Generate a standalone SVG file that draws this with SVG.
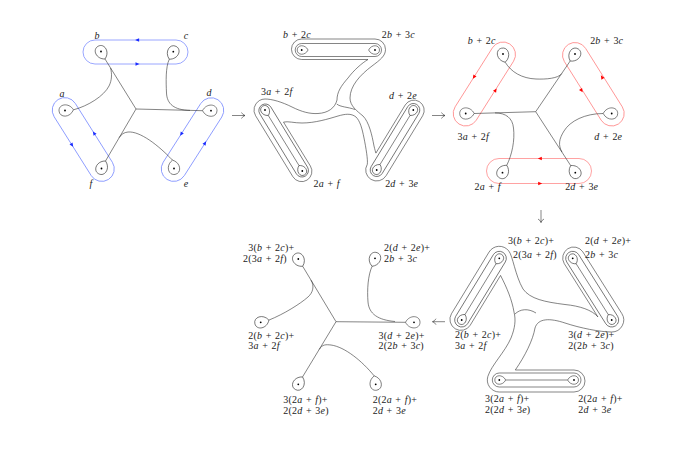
<svg xmlns="http://www.w3.org/2000/svg" width="674" height="457" viewBox="0 0 674 457">
<defs>
<style>
.k{fill:none;stroke:#333;stroke-width:0.6}
.bl{fill:none;stroke:#8090ff;stroke-width:0.8}
.rd{fill:none;stroke:#ff8a8a;stroke-width:0.8}
.t{font-family:"Liberation Serif","DejaVu Serif",serif;font-size:10px;letter-spacing:0.2px;word-spacing:0.8px;fill:#222}
.i{font-style:italic}
.ab{fill:#1a2cff}
.ar{fill:#ff0000}
</style>
<path id="ls" d="M0,8.5 C-8,4.5 -7,-6 0,-6 C7,-6 8,4.5 0,8.5"/>
<path id="lsS" d="M0,6.4 C-6,3.4 -5.3,-4.5 0,-4.5 C5.3,-4.5 6,3.4 0,6.4"/>
<path id="tri" d="M2.2,0 L-1.8,-1.8 L-1.8,1.8 Z"/>
<circle id="pt" r="0.9" fill="#000"/>
<marker id="hd" viewBox="-5 -4 6 8" refX="0" refY="0" markerWidth="6" markerHeight="8" orient="auto" markerUnits="userSpaceOnUse">
<path d="M-3.5,-3 Q-2.2,-0.6 0,0 Q-2.2,0.6 -3.5,3" fill="none" stroke="#333" stroke-width="0.6"/>
</marker>
</defs>
<rect width="674" height="457" fill="#fff"/>

<!-- Panel 1 -->
<g id="panel1">
<g id="p1-loops">
<rect class="bl" x="83" y="40" width="105" height="24" rx="12"/>
<rect class="bl" x="-47.25" y="-12.5" width="94.5" height="25" rx="12.5" transform="translate(83.25 139.5) rotate(57.8)"/>
<rect class="bl" x="-47.3" y="-12.5" width="94.6" height="25" rx="12.5" transform="translate(192.5 139.6) rotate(-57.4)"/>
<use href="#tri" class="ab" transform="translate(137.3 40) rotate(180)"/>
<use href="#tri" class="ab" transform="translate(137.3 64)"/>
<use href="#tri" class="ab" transform="translate(72 145) rotate(57.8)"/>
<use href="#tri" class="ab" transform="translate(94.1 133.3) rotate(237.8)"/>
<use href="#tri" class="ab" transform="translate(181.3 134) rotate(122.6)"/>
<use href="#tri" class="ab" transform="translate(205 143.2) rotate(-57.4)"/>
</g>
<g id="p1-curves" class="k">
<path d="M105,59 L136,109"/>
<path d="M73.5,109.8 C88,106 104,96 109,86 C112,80 112,74 110.6,68"/>
<path d="M169.3,59.2 C165.5,67 166,82 166.5,93 C167,104 174,110 190,110.4"/>
<path d="M202.5,110.7 L136,109"/>
<path d="M105.5,161 L136,109"/>
<path d="M172.5,160.1 C158,145 140,131 128,132 C124,132.5 121.5,134 119.2,137.6"/>
</g>
<g id="p1-a"><use href="#ls" class="k" transform="translate(65 110.5) rotate(-95)"/><use href="#pt" x="65" y="110.5"/><text class="t i" x="62" y="97" text-anchor="middle">a</text></g>
<g id="p1-b"><use href="#ls" class="k" transform="translate(101 51.5) rotate(-28)"/><use href="#pt" x="101" y="51.5"/><text class="t i" x="97" y="38.5" text-anchor="middle">b</text></g>
<g id="p1-c"><use href="#ls" class="k" transform="translate(173.3 51.7) rotate(28)"/><use href="#pt" x="173.3" y="51.7"/><text class="t i" x="186" y="38.5" text-anchor="middle">c</text></g>
<g id="p1-d"><use href="#ls" class="k" transform="translate(211 110.7) rotate(90)"/><use href="#pt" x="211" y="110.7"/><text class="t i" x="209" y="96" text-anchor="middle">d</text></g>
<g id="p1-e"><use href="#ls" class="k" transform="translate(174 168.5) rotate(-190)"/><use href="#pt" x="174" y="168.5"/><text class="t i" x="186" y="187" text-anchor="middle">e</text></g>
<g id="p1-f"><use href="#ls" class="k" transform="translate(101.5 168.5) rotate(-152)"/><use href="#pt" x="101.5" y="168.5"/><text class="t i" x="91" y="187" text-anchor="middle">f</text></g>
</g>

<!-- Panel 2 -->
<g id="panel2">
<g id="p2-curves" class="k">
<path d="M337,100 C337,92 341,86 348,78 C354,70 362,63 368,59.5 L301.7,59.5 A10.25 10.25 0 0 1 301.7,39 L375,39 A10.5 10.5 0 0 1 385.5,49.5 C385.5,56 380,60 372,66 C360,75 350,86 350,98 C350,106 357,111 363,116 C369,122 372,135 374,146 C375,150 375.5,152 375.9,153.1 L405.2,105 A10.25 10.25 0 0 1 422.7,115.7 L386.1,175.7 A11 11 0 0 1 370.97,179.39 A11 11 0 0 1 367.3,164.27 C368,160 366,148 364,138 C362,128 360,121 356,117 C351,113 345,114 338,116 C328,119 315,123 302,123 C294,123 288,121 283.5,122.1 L310.4,166.04 A10.25 10.25 0 0 1 292.9,176.74 L255.6,115.74 A11 11 0 0 1 259.27,100.61 A11 11 0 0 1 265,99 C272,99 282,102 292,107 C302,112 310,114 318,113.5 C328,113 335,108 337,100 Z"/>
<path d="M336.8,104 C340,107 348,107 355,109.5"/>
<rect x="295.2" y="43.5" width="86.3" height="13" rx="6.5"/>
<rect x="-41.65" y="-6.5" width="83.3" height="13" rx="6.5" transform="translate(395 140) rotate(-58.6)"/>
<rect x="-41.65" y="-6.5" width="83.3" height="13" rx="6.5" transform="translate(283.65 140.5) rotate(58.6)"/>
<path d="M268.3,115.5 L299,165.5"/>
<path d="M380,164.5 L410,115.5"/>
</g>
<g id="p2-b2c"><use href="#lsS" class="k" transform="translate(301.7 50) rotate(-90)"/><use href="#pt" x="301.7" y="50"/><text class="t" x="297" y="37.5" text-anchor="middle"><tspan class="i">b</tspan> + 2<tspan class="i">c</tspan></text></g>
<g id="p2-2b3c"><use href="#lsS" class="k" transform="translate(375 50) rotate(90)"/><use href="#pt" x="375" y="50"/><text class="t" x="398.3" y="37.5" text-anchor="middle">2<tspan class="i">b</tspan> + 3<tspan class="i">c</tspan></text></g>
<g id="p2-3a2f"><use href="#lsS" class="k" transform="translate(265 110) rotate(-31.4)"/><use href="#pt" x="265" y="110"/><text class="t" x="276.7" y="95" text-anchor="middle">3<tspan class="i">a</tspan> + 2<tspan class="i">f</tspan></text></g>
<g id="p2-2af"><use href="#lsS" class="k" transform="translate(302.3 171) rotate(148.6)"/><use href="#pt" x="302.3" y="171"/><text class="t" x="326.7" y="186.5" text-anchor="middle">2<tspan class="i">a</tspan> + <tspan class="i">f</tspan></text></g>
<g id="p2-d2e"><use href="#lsS" class="k" transform="translate(413.3 110) rotate(31.4)"/><use href="#pt" x="413.3" y="110"/><text class="t" x="403" y="98.5" text-anchor="middle"><tspan class="i">d</tspan> + 2<tspan class="i">e</tspan></text></g>
<g id="p2-2d3e"><use href="#lsS" class="k" transform="translate(376.7 170) rotate(-148.6)"/><use href="#pt" x="376.7" y="170"/><text class="t" x="401.7" y="186.5" text-anchor="middle">2<tspan class="i">d</tspan> + 3<tspan class="i">e</tspan></text></g>
</g>

<!-- Panel 3 -->
<g id="panel3">
<g id="p3-loops">
<rect class="rd" x="-47.4" y="-12.5" width="94.8" height="25" rx="12.5" transform="translate(484.35 84) rotate(-57.7)"/>
<rect class="rd" x="-47.03" y="-12.5" width="94.06" height="25" rx="12.5" transform="translate(593.35 84.25) rotate(57.9)"/>
<rect class="rd" x="486.5" y="158.5" width="105" height="25" rx="12.5"/>
<use href="#tri" class="ar" transform="translate(474 77) rotate(122.3)"/>
<use href="#tri" class="ar" transform="translate(495.5 90.3) rotate(-57.7)"/>
<use href="#tri" class="ar" transform="translate(581.5 90.5) rotate(57.9)"/>
<use href="#tri" class="ar" transform="translate(602 77.2) rotate(-122.1)"/>
<use href="#tri" class="ar" transform="translate(540 158.5) rotate(180)"/>
<use href="#tri" class="ar" transform="translate(540 183.5)"/>
</g>
<g id="p3-curves" class="k">
<path d="M570.2,61 L535.7,111.7"/>
<path d="M505.2,62.2 C511,72 522,78.5 536,79 C546,79.5 558.5,78.3 561.6,73.7"/>
<path d="M474.2,113.5 L535.7,111.7"/>
<path d="M506.75,165.3 C512,155 515,140 513.5,128 C512.5,118 506,113 495,112.9"/>
<path d="M570.7,165.6 L535.7,111.7"/>
<path d="M603.2,113.5 C585,113.5 570,121 564,131 C559,139 558,145 562,152.1"/>
</g>
<g id="p3-b2c"><use href="#ls" class="k" transform="translate(503 54) rotate(-15)"/><use href="#pt" x="503" y="54"/><text class="t" x="481.7" y="44" text-anchor="middle"><tspan class="i">b</tspan> + 2<tspan class="i">c</tspan></text></g>
<g id="p3-2b3c"><use href="#ls" class="k" transform="translate(575 54) rotate(34.3)"/><use href="#pt" x="575" y="54"/><text class="t" x="606.7" y="44" text-anchor="middle">2<tspan class="i">b</tspan> + 3<tspan class="i">c</tspan></text></g>
<g id="p3-3a2f"><use href="#ls" class="k" transform="translate(465.7 113.5) rotate(-90)"/><use href="#pt" x="465.7" y="113.5"/><text class="t" x="473.3" y="140" text-anchor="middle">3<tspan class="i">a</tspan> + 2<tspan class="i">f</tspan></text></g>
<g id="p3-d2e"><use href="#ls" class="k" transform="translate(611.7 113.5) rotate(90)"/><use href="#pt" x="611.7" y="113.5"/><text class="t" x="608.3" y="140" text-anchor="middle"><tspan class="i">d</tspan> + 2<tspan class="i">e</tspan></text></g>
<g id="p3-2af"><use href="#ls" class="k" transform="translate(502.5 172.7) rotate(-150)"/><use href="#pt" x="502.5" y="172.7"/><text class="t" x="487.7" y="190" text-anchor="middle">2<tspan class="i">a</tspan> + <tspan class="i">f</tspan></text></g>
<g id="p3-2d3e"><use href="#ls" class="k" transform="translate(575.3 172.7) rotate(147)"/><use href="#pt" x="575.3" y="172.7"/><text class="t" x="581.7" y="190" text-anchor="middle">2<tspan class="i">d</tspan> + 3<tspan class="i">e</tspan></text></g>
</g>

<!-- Panel 4 -->
<g id="panel4">
<g id="p4-curves" class="k">
<path d="M508.73,250.88 C513,256.3 515,275 523,289 C530,299 545,302 565,304.5 C580,306 592,310 597.9,316.9 L564.25,263.64 A11 11 0 0 1 582.84,251.89 L621.84,313.59 A12 12 0 0 1 611.7,332 C600,332 580,328 565,323 C550,318 538,318 535,328 C533,340 525,356 515.3,370 L574,370 A11 11 0 0 1 585,381 A11 11 0 0 1 574,392 L499.3,392 A12 12 0 0 1 487.86,376.39 C491.5,365 505,352 511,338 C515,328 516,320 514,312 C512,300 507,288 500.56,275.45 L470.24,325.2 A11 11 0 0 1 451.45,313.76 L489.05,252.06 A12 12 0 0 1 508.73,250.88 Z"/>
<path d="M515,314 C520,309 528,308 536,313"/>
<rect x="-43.13" y="-7" width="86.26" height="14" rx="7" transform="translate(480.5 289.15) rotate(-58.6)"/>
<rect x="-43.5" y="-7" width="87" height="14" rx="7" transform="translate(592.2 289.15) rotate(57.7)"/>
<rect x="492.3" y="373" width="88.7" height="14" rx="7"/>
<path d="M496,263.8 L465,314.5"/>
<path d="M576.1,263.7 L608.3,314.6"/>
<path d="M505.7,380 L567.6,380"/>
</g>
<g id="p4-tl"><use href="#lsS" class="k" transform="translate(499.3 258.3) rotate(31.4)"/><use href="#pt" x="499.3" y="258.3"/><text class="t" x="508" y="244">3(<tspan class="i">b</tspan> + 2<tspan class="i">c</tspan>)+</text><text class="t" x="513" y="257.5">2(3<tspan class="i">a</tspan> + 2<tspan class="i">f</tspan>)</text></g>
<g id="p4-tr"><use href="#lsS" class="k" transform="translate(572.7 258.3) rotate(-32.3)"/><use href="#pt" x="572.7" y="258.3"/><text class="t" x="585" y="244">2(<tspan class="i">d</tspan> + 2<tspan class="i">e</tspan>)+</text><text class="t" x="585" y="257.5">2<tspan class="i">b</tspan> + 3<tspan class="i">c</tspan></text></g>
<g id="p4-l"><use href="#lsS" class="k" transform="translate(461.7 320) rotate(-148.6)"/><use href="#pt" x="461.7" y="320"/><text class="t" x="455" y="338.3">2(<tspan class="i">b</tspan> + 2<tspan class="i">c</tspan>)+</text><text class="t" x="455" y="348.8">3<tspan class="i">a</tspan> + 2<tspan class="i">f</tspan></text></g>
<g id="p4-r"><use href="#lsS" class="k" transform="translate(611.7 320) rotate(147.7)"/><use href="#pt" x="611.7" y="320"/><text class="t" x="568.3" y="338.3">3(<tspan class="i">d</tspan> + 2<tspan class="i">e</tspan>)+</text><text class="t" x="568.3" y="348.8">2(2<tspan class="i">b</tspan> + 3<tspan class="i">c</tspan>)</text></g>
<g id="p4-bl"><use href="#lsS" class="k" transform="translate(499.3 380) rotate(-90)"/><use href="#pt" x="499.3" y="380"/><text class="t" x="485" y="402">3(2<tspan class="i">a</tspan> + <tspan class="i">f</tspan>)+</text><text class="t" x="485" y="412.5">2(2<tspan class="i">d</tspan> + 3<tspan class="i">e</tspan>)</text></g>
<g id="p4-br"><use href="#lsS" class="k" transform="translate(574 380) rotate(90)"/><use href="#pt" x="574" y="380"/><text class="t" x="578.3" y="402">2(2<tspan class="i">a</tspan> + <tspan class="i">f</tspan>)+</text><text class="t" x="578.3" y="412.5">2<tspan class="i">d</tspan> + 3<tspan class="i">e</tspan></text></g>
</g>

<!-- Panel 5 -->
<g id="panel5">
<g id="p5-curves" class="k">
<path d="M302.7,266.3 L336,321.7"/>
<path d="M268.9,320.1 C284,314 300,304 308,297 C313,292.5 314.6,286.2 311,280.2"/>
<path d="M372.1,266.3 C368,275 367,290 368,302 C369,314 378,320 395,321.5"/>
<path d="M405.5,322.3 L336,321.7"/>
<path d="M302.55,376.9 L336,321.7"/>
<path d="M374.2,375.9 C362,361 345,347 331,345 C326,344.5 322.4,344.2 319.3,349.3"/>
</g>
<g id="p5-tl"><use href="#ls" class="k" transform="translate(298.3 259) rotate(-31)"/><use href="#pt" x="298.3" y="259"/><text class="t" x="248.3" y="250.5">3(<tspan class="i">b</tspan> + 2<tspan class="i">c</tspan>)+</text><text class="t" x="243" y="261.5">2(3<tspan class="i">a</tspan> + 2<tspan class="i">f</tspan>)</text></g>
<g id="p5-tr"><use href="#ls" class="k" transform="translate(375 258.3) rotate(20)"/><use href="#pt" x="375" y="258.3"/><text class="t" x="384" y="250.5">2(<tspan class="i">d</tspan> + 2<tspan class="i">e</tspan>)+</text><text class="t" x="384" y="261.5">2<tspan class="i">b</tspan> + 3<tspan class="i">c</tspan></text></g>
<g id="p5-l"><use href="#ls" class="k" transform="translate(260.7 322.3) rotate(-105)"/><use href="#pt" x="260.7" y="322.3"/><text class="t" x="248.3" y="338.8">2(<tspan class="i">b</tspan> + 2<tspan class="i">c</tspan>)+</text><text class="t" x="248.3" y="349.3">3<tspan class="i">a</tspan> + 2<tspan class="i">f</tspan></text></g>
<g id="p5-r"><use href="#ls" class="k" transform="translate(414 322.3) rotate(90)"/><use href="#pt" x="414" y="322.3"/><text class="t" x="378.5" y="338.8">3(<tspan class="i">d</tspan> + 2<tspan class="i">e</tspan>)+</text><text class="t" x="378.5" y="349.3">2(2<tspan class="i">b</tspan> + 3<tspan class="i">c</tspan>)</text></g>
<g id="p5-bl"><use href="#ls" class="k" transform="translate(298.3 384.3) rotate(-150)"/><use href="#pt" x="298.3" y="384.3"/><text class="t" x="283.3" y="403.3">3(2<tspan class="i">a</tspan> + <tspan class="i">f</tspan>)+</text><text class="t" x="283.3" y="413.8">2(2<tspan class="i">d</tspan> + 3<tspan class="i">e</tspan>)</text></g>
<g id="p5-br"><use href="#ls" class="k" transform="translate(375.7 384.3) rotate(-190)"/><use href="#pt" x="375.7" y="384.3"/><text class="t" x="372.7" y="403.3">2(2<tspan class="i">a</tspan> + <tspan class="i">f</tspan>)+</text><text class="t" x="372.7" y="413.8">2<tspan class="i">d</tspan> + 3<tspan class="i">e</tspan></text></g>
</g>

<g id="connectors" class="k">
<path d="M232,115.5 H245" marker-end="url(#hd)"/>
<path d="M432,115.5 H445" marker-end="url(#hd)"/>
<path d="M541,210 V222.5" marker-end="url(#hd)"/>
<path d="M445,321.7 H432.5" marker-end="url(#hd)"/>
</g>
</svg>
